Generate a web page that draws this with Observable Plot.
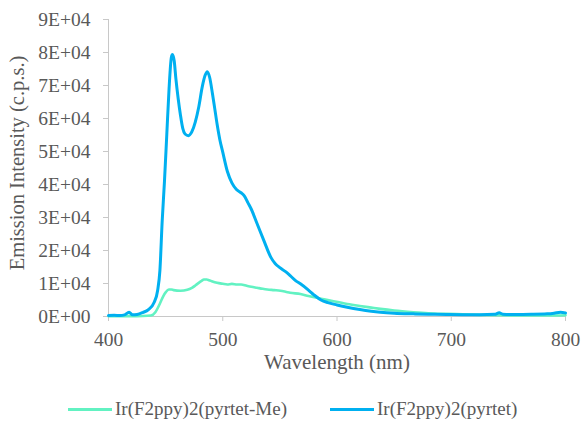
<!DOCTYPE html>
<html>
<head>
<meta charset="utf-8">
<script src="https://cdn.jsdelivr.net/npm/d3@7"></script>
<script src="https://cdn.jsdelivr.net/npm/@observablehq/plot@0.6"></script>
</head>
<body style="margin:0;padding:0;background:#fff">
<div id="box" style="width:581px;height:421px;position:relative;font-family:'Liberation Serif';color:#595959">
  <div id="fig"></div>
  <div id="key" style="position:absolute;top:398px;left:0;width:581px;height:22px;font-family:'Liberation Serif';font-size:19px;color:#595959"></div>
</div>
<script>
// Series names
const seriesNames = ["Ir(F2ppy)2(pyrtet-Me)", "Ir(F2ppy)2(pyrtet)"];
const seriesColors = ["#62f2c2", "#00b0f0"];

// Ir(F2ppy)2(pyrtet) (blue)
const blueWavelength = [400,405,410,414,418,421,425,430,435,440,443,445,447,449,451,453,455,456,457.5,459,461,463,465,467,470,473,476,479,482,484.5,486.5,488.5,491,493,495,497.5,500,504,508,512,516,519,522,525,530,536,542,546,550,555,559,564,568,575,580,586,592,600,609,620,630,638,650,667,680,696,710,725,738,742,745,755,770,784,790,795.6,800];
const blueIntensity = [300,350,300,500,1300,500,600,1200,2100,4300,7900,14000,29000,41000,55000,69000,78500,79400,77500,72000,66000,61000,57000,55300,54800,56000,59000,63500,69500,73000,74200,72500,67500,63000,58400,53500,49800,44000,40500,38500,37500,36500,34500,32500,28200,23000,18000,16000,14800,13600,12400,10800,9900,8000,6500,5000,4200,3500,2800,2100,1600,1300,1000,800,700,600,550,550,650,1100,700,600,650,800,1000,1300,1100];

// Ir(F2ppy)2(pyrtet-Me) (green)
const greenWavelength = [400,410,420,430,437,441,443,445.5,448,450,452.8,455,457,463,469,473,476,479,481.5,483.5,486,488,491,495,500,504,508,512.6,516,521,525,530,535,539,545,550.5,555,559,568,575,586,597,609,620,630,638,650,667,680,696,710,725,740,754,770,784,800];
const greenIntensity = [100,100,100,150,300,1300,2500,4300,6200,7300,8200,8200,8000,7800,8100,8700,9400,10200,10800,11200,11200,11000,10600,10200,9900,9700,9900,9700,9700,9300,9000,8700,8400,8200,8000,7800,7500,7200,6800,6200,5400,4600,3800,3200,2700,2300,1800,1300,1000,800,650,500,400,300,300,300,400];

// Axis ticks
const xTicks = [400, 500, 600, 700, 800];
const yTicks = [0, 10000, 20000, 30000, 40000, 50000, 60000, 70000, 80000, 90000];
const yTickLabels = ["0E+00","1E+04","2E+04","3E+04","4E+04","5E+04","6E+04","7E+04","8E+04","9E+04"];

const green = greenWavelength.map((w, i) => ({w, v: greenIntensity[i]}));
const blue = blueWavelength.map((w, i) => ({w, v: blueIntensity[i]}));

const axisColor = "#c8c8c8";
const textColor = "#595959";

const svg = Plot.plot({
  width: 581,
  height: 390,
  marginLeft: 108,
  marginRight: 16,
  marginTop: 19,
  marginBottom: 74,
  style: "font-family:'Liberation Serif';font-size:19px;color:#595959;background:#fff;overflow:visible",
  x: { domain: [400, 800] },
  y: { domain: [0, 90000] },
  marks: [
    Plot.ruleX([400], { stroke: axisColor, strokeWidth: 1 }),
    Plot.ruleY([0], { stroke: axisColor, strokeWidth: 1 }),
    Plot.axisY({
      ticks: yTicks,
      tickSize: 5,
      tickPadding: 13,
      stroke: axisColor,
      fill: textColor,
      fontSize: 19.5,
      tickFormat: (d) => yTickLabels[yTicks.indexOf(d)],
      label: null
    }),
    Plot.axisX({
      ticks: xTicks,
      tickSize: 5,
      tickPadding: 11,
      stroke: axisColor,
      fill: textColor,
      fontSize: 19.5,
      tickFormat: d => String(d),
      label: null
    }),
    Plot.text(["Wavelength (nm)"], {
      frameAnchor: "bottom", dy: 46, text: d => d, fill: textColor, fontSize: 21, lineAnchor: "middle"
    }),
    Plot.text(["Emission Intensity (c.p.s.)"], {
      frameAnchor: "left", dx: -91, dy: -5, rotate: -90, textAnchor: "middle", text: d => d, fill: textColor, fontSize: 20.5, lineAnchor: "middle"
    }),
    Plot.line(green, { x: "w", y: "v", stroke: seriesColors[0], strokeWidth: 2.6, curve: "monotone-x" }),
    Plot.line(blue, { x: "w", y: "v", stroke: seriesColors[1], strokeWidth: 3, curve: "monotone-x" })
  ]
});
document.getElementById("fig").appendChild(svg);

// Legend
const key = document.getElementById("key");
const positions = [68, 330];
seriesNames.forEach((name, i) => {
  const item = document.createElement("div");
  item.style.cssText = "position:absolute;top:0;display:flex;align-items:center;height:22px;white-space:nowrap;font-family:'Liberation Serif'";
  item.style.left = positions[i] + "px";
  const sw = document.createElement("div");
  sw.style.cssText = "width:44px;height:3px;margin-right:3px";
  sw.style.background = seriesColors[i];
  const t = document.createElement("span");
  t.textContent = name;
  item.appendChild(sw);
  item.appendChild(t);
  key.appendChild(item);
});
</script>
</body>
</html>
